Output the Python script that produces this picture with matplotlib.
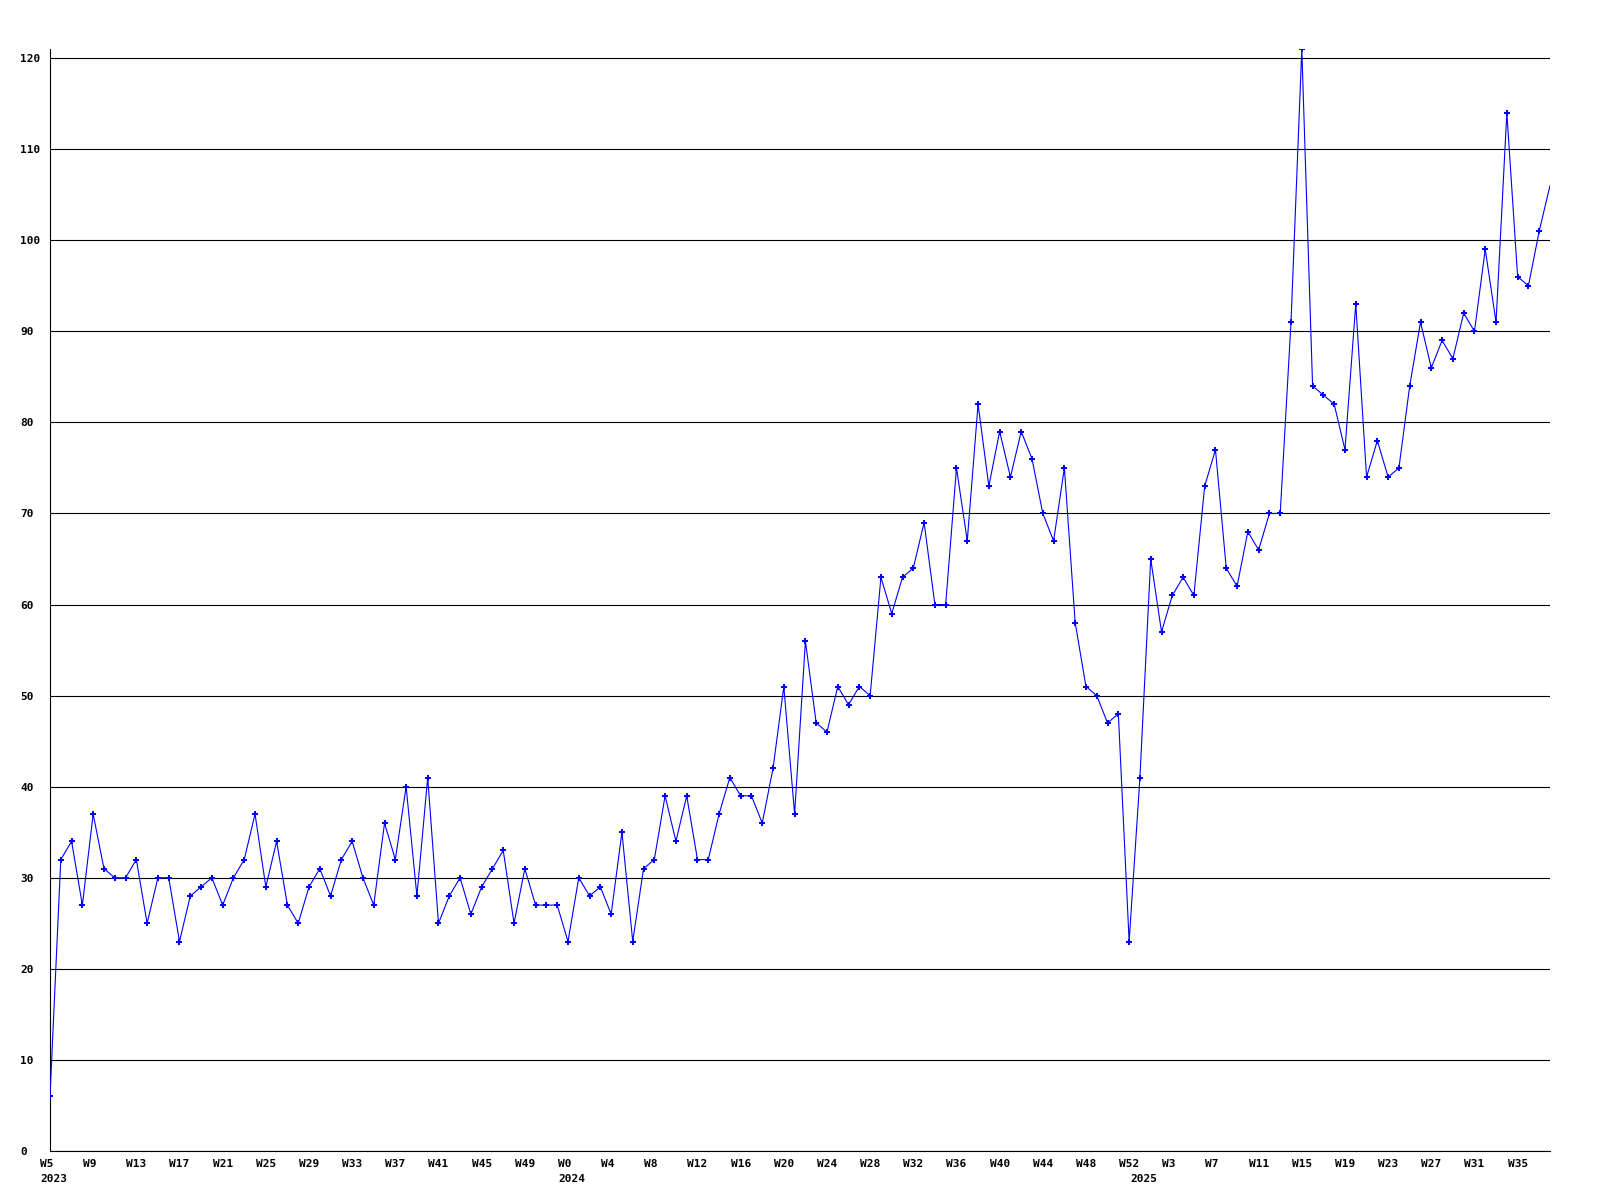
import matplotlib
matplotlib.use('Agg')
import matplotlib.pyplot as plt
import matplotlib.transforms as mtransforms

# weekly counts
counts_2023 = [6, 32, 34, 27, 37, 31, 30, 30, 32, 25, 30, 30, 23, 28, 29, 30,
               27, 30, 32, 37, 29, 34, 27, 25, 29, 31, 28, 32, 34, 30, 27, 36,
               32, 40, 28, 41, 25, 28, 30, 26, 29, 31, 33, 25, 31, 27, 27, 27]
counts_2024 = [23, 30, 28, 29, 26, 35, 23, 31, 32, 39, 34, 39, 32, 32, 37, 41,
               39, 39, 36, 42, 51, 37, 56, 47, 46, 51, 49, 51, 50, 63, 59, 63,
               64, 69, 60, 60, 75, 67, 82, 73, 79, 74, 79, 76, 70, 67, 75, 58,
               51, 50, 47, 48, 23]
counts_2025 = [41, 65, 57, 61, 63, 61, 73, 77, 64, 62, 68, 66, 70, 70, 91, 121,
               84, 83, 82, 77, 93, 74, 78, 74, 75, 84, 91, 86, 89, 87, 92, 90,
               99, 91, 114, 96, 95, 101, 106]

# week numbers for each point (categories)
weeks_2023 = list(range(5, 53))
weeks_2024 = list(range(0, 53))
weeks_2025 = list(range(0, 39))

years = [2023, 2024, 2025]

counts = counts_2023 + counts_2024 + counts_2025
weeks = weeks_2023 + weeks_2024 + weeks_2025
year_of = [2023] * len(weeks_2023) + [2024] * len(weeks_2024) + [2025] * len(weeks_2025)
x = list(range(len(counts)))

fig = plt.figure(figsize=(16, 12), dpi=100)
ax = fig.add_axes([50 / 1600, 49 / 1200, 1500 / 1600, 1102 / 1200])

ax.plot(x, counts, color='#0000ff', lw=0.8, marker='P', ms=4.5, mew=0,
        markevery=list(range(len(counts) - 1)), zorder=3)

ax.set_xlim(0, len(counts) - 1)
ax.set_ylim(0, 121)

for s in ['top', 'right']:
    ax.spines[s].set_visible(False)
for s in ['left', 'bottom']:
    ax.spines[s].set_color('black')
    ax.spines[s].set_linewidth(0.8)

ax.set_yticks(range(0, 121, 10))
ax.yaxis.grid(True, color='black', lw=0.8)
ax.set_axisbelow(True)
ax.tick_params(axis='y', length=0, pad=21.6)
for lab in ax.get_yticklabels():
    lab.set_horizontalalignment('left')
    lab.set_fontfamily('DejaVu Sans Mono')
    lab.set_fontweight('bold')
    lab.set_fontsize(8)

ax.set_xticks([])

font = dict(family='DejaVu Sans Mono', weight='bold', size=8)
week_trans = mtransforms.offset_copy(ax.get_xaxis_transform(), fig=fig, x=-10, y=-8, units='dots')
year_trans = mtransforms.offset_copy(ax.get_xaxis_transform(), fig=fig, x=-10, y=-23, units='dots')

for i in range(0, len(x), 4):
    ax.text(x[i], 0, 'W%d' % weeks[i], transform=week_trans, ha='left', va='top', **font)

for yr in years:
    i = year_of.index(yr)
    ax.text(x[i], 0, str(yr), transform=year_trans, ha='left', va='top', **font)

fig.savefig('out.png', dpi=100)
